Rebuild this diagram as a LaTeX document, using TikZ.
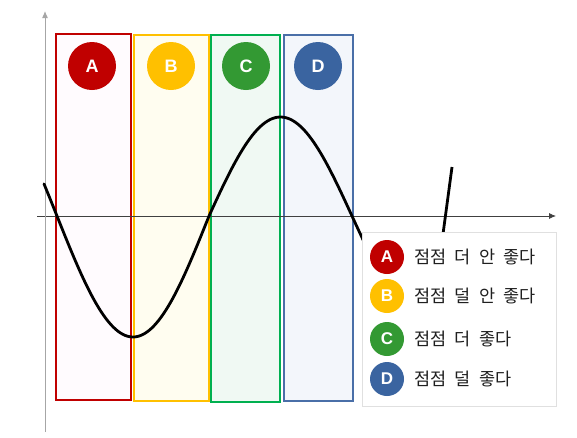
\documentclass[tikz,border=0pt]{standalone}
\usepackage{fontspec}
\setmainfont{Liberation Sans}
\newfontfamily\krfont{Noto Sans CJK KR}[WordSpace=2.1]
\usetikzlibrary{arrows.meta, positioning}
\definecolor{redA}{HTML}{C00000}
\definecolor{yellowB}{HTML}{FFC000}
\definecolor{greenC}{HTML}{339933}
\definecolor{blueD}{HTML}{3A64A0}
\definecolor{greenCline}{HTML}{00B050}
\definecolor{blueDline}{HTML}{4A6FA8}
\definecolor{fillA}{HTML}{FFFBFE}
\definecolor{fillB}{HTML}{FFFDF0}
\definecolor{fillC}{HTML}{F0F9F3}
\definecolor{fillD}{HTML}{F3F6FB}
\tikzset{
  badge/.style={circle, fill=#1, text=white, inner sep=0pt, minimum size=48pt,
    font=\bfseries\fontsize{18}{18}\selectfont},
  keybadge/.style={badge=#1, minimum size=34pt, font=\bfseries\fontsize{17}{17}\selectfont},
  keytext/.style={font=\krfont\fontsize{17.5}{17.5}\selectfont, text=black!88, inner sep=0pt},
  zone/.style={line width=2pt},
}

\begin{document}
\begin{tikzpicture}[x=1pt, y=-1pt, >={Latex[length=7pt, width=6pt]}]
    \useasboundingbox (0,0) rectangle (577,437);

    % Zones
    \draw[zone, draw=redA, fill=fillA] (56,34) rectangle (131,400);
    \draw[zone, draw=yellowB, fill=fillB] (134,35) rectangle (209,401);
    \draw[zone, draw=greenCline, fill=fillC] (211,35) rectangle (280,402);
    \draw[zone, draw=blueDline, fill=fillD] (284,35) rectangle (353,401);

    \node[badge=redA] (za) at (92,66) {A};
    \node[badge=yellowB] (zb) at (171,66) {B};
    \node[badge=greenC] (zc) at (246,66) {C};
    \node[badge=blueD] (zd) at (318,66) {D};

    % Axes
    \coordinate (xs) at (37,216);
    \coordinate (xe) at (556,216);
    \coordinate (ys) at (45,432);
    \coordinate (ye) at (45,11);
    \draw[->, line width=0.8pt, black!75] (xs) -- (xe);
    \draw[->, line width=1pt, black!35] (ys) -- (ye);

    % Wave
    \draw[line width=2.8pt, line cap=round, smooth, samples=70]
      plot[domain=44:209] (\x, {216 + 121*sin((\x-57)/152*180)})
      -- plot[domain=209:366] (\x, {216 - 99*sin((\x-209)/143*180)});
    \coordinate (tailtop) at (452,167);
    \coordinate (tailbot) at (443,234);
    \draw[line width=2.8pt] (tailbot) -- (tailtop);

    % Legend
    \draw[draw=black!12, line width=1pt, fill=white] (362,232) rectangle (556,406);
    \node[keybadge=redA] (la) at (387,257) {A};
    \node[keybadge=yellowB] (lb) at (387,296) {B};
    \node[keybadge=greenC] (lc) at (387,339) {C};
    \node[keybadge=blueD] (ld) at (387,379) {D};
    \node[keytext, right=10pt of la] (ta) {점점 더 안 좋다};
    \node[keytext, right=10pt of lb] (tb) {점점 덜 안 좋다};
    \node[keytext, right=10pt of lc] (tc) {점점 더 좋다};
    \node[keytext, right=10pt of ld] (td) {점점 덜 좋다};
\end{tikzpicture}
\end{document}
